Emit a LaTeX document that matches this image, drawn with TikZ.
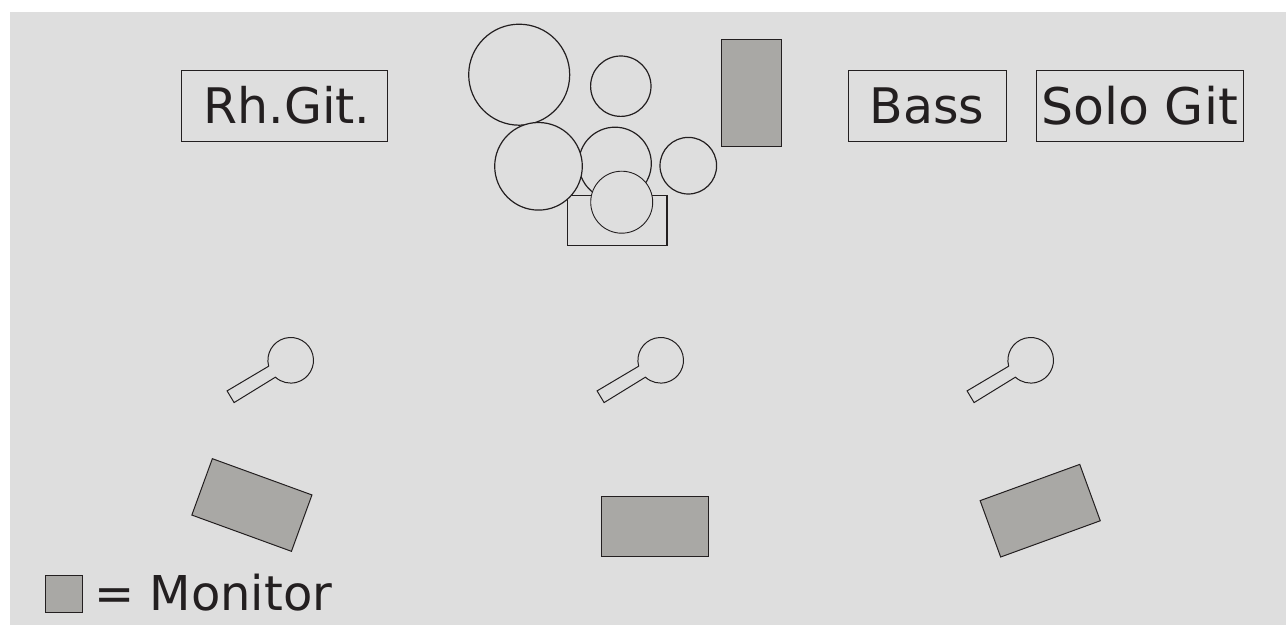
\documentclass[tikz,border=0pt]{standalone}
\usepackage{fontspec}
\setmainfont{DejaVu Sans}
\usepackage{xcolor}
\definecolor{stagegray}{HTML}{DEDEDE}
\definecolor{monitorgray}{HTML}{A9A8A5}
\definecolor{inkblack}{HTML}{231F20}

\begin{document}
\begin{tikzpicture}[x=1pt,y=1pt,
  player/.style={draw=inkblack, line width=0.8pt, inner sep=0pt, minimum height=71pt, text=inkblack, font=\fontsize{49}{50}\selectfont},
  drum/.style={draw=inkblack, line width=1.2pt, fill=stagegray, circle, inner sep=0pt},
  monitor/.style={draw=inkblack, line width=1pt, fill=monitorgray, inner sep=0pt, minimum width=106pt, minimum height=60pt},
  mic/.style={draw=inkblack, line width=1pt}]
  \useasboundingbox (0,0) rectangle (1286,625);
  \fill[stagegray] (10,0) rectangle (1286,613);
  % band
  \node[player, minimum width=206pt](rh) at (284,519.5){\hspace{6pt}Rh.Git.};
  \node[player, minimum width=158pt](bass) at (927,519.5){Bass};
  \node[player, minimum width=207pt](solo) at (1139.5,519.5){\fontsize{50.5}{50}\selectfont Solo Git};
  % drum kit
  \node[drum, minimum size=101pt](crash) at (519.2,550.3){};
  \node[drum, minimum size=60.4pt](ride) at (620.8,538.8){};
  \node[drum, minimum size=72.6pt](tomb) at (615,461.5){};
  \node[draw=inkblack, line width=1.2pt, inner sep=0pt, minimum width=99.7pt, minimum height=50pt](kick) at (617.2,404.5){};
  \node[drum, minimum size=87.6pt](toma) at (538.5,458.7){};
  \node[drum, minimum size=62pt, line width=0.9pt](snare) at (621.7,422.8){};
  \node[drum, minimum size=56.6pt](tomc) at (688.3,459.3){};
  \node[monitor, minimum width=60.3pt, minimum height=106.7pt](drummon) at (751.8,531.7){};
  % microphones
  \foreach \x in {290.7,660.7,1030.7}
    \draw[mic] (\x,264.7) ++(195:22.8) arc (195:-132.2:22.8)
      -- ++(-41.3,-25.4) -- ++(-7,11.7) -- cycle;
  % monitors
  \node[monitor, rotate=-20](monl) at (251.9,120){};
  \node[monitor, minimum width=106.5pt, minimum height=60.5pt](monc) at (654.8,98.7){};
  \node[monitor, rotate=20](monr) at (1040.2,114.3){};
  % legend
  \node[monitor, minimum width=36.7pt, minimum height=36.7pt](legend) at (64,31){};
  \node[anchor=base west, inner sep=0pt, text=inkblack, font=\fontsize{48}{50}\selectfont](legendtext) at (94,15){= Monitor};
\end{tikzpicture}
\end{document}
